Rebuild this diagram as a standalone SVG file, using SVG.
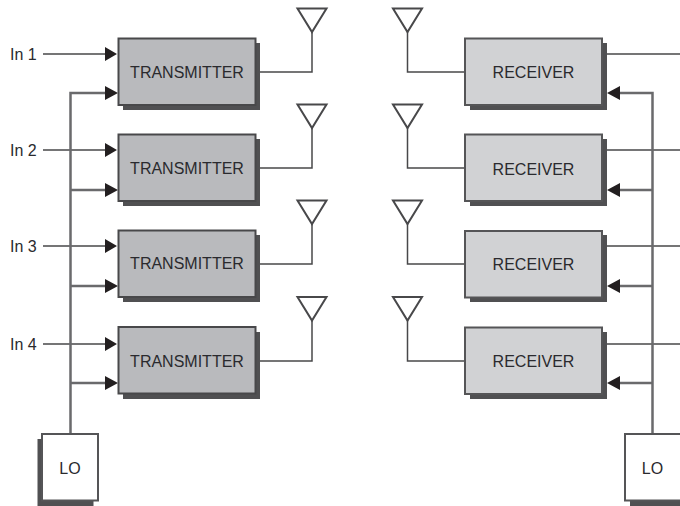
<svg xmlns="http://www.w3.org/2000/svg" width="680" height="506" viewBox="0 0 680 506">
<style>
text{font-family:"Liberation Sans",Arial,sans-serif;font-size:16px;fill:#2a2a2e;text-anchor:middle}
.in{text-anchor:start}
.sh{fill:#505052}
.tx{fill:#b9babd;stroke:#48484a;stroke-width:2}
.rx{fill:#d1d2d4;stroke:#555557;stroke-width:2}
.lo{fill:#fff;stroke:#555557;stroke-width:2}
.ant{fill:#fff;stroke:#48484a;stroke-width:2;stroke-linejoin:miter}
.c{fill:none;stroke:#48484a;stroke-width:1.5}
.b{fill:none;stroke:#6a6a6c;stroke-width:2.5}
.a{fill:#231f20}
</style>
<rect width="680" height="506" fill="#fff"/>
<g id="connectors">
<path class="c" d="M43 54H106M43 150H106M43 246H106M43 344H106"/>
<path class="b" d="M70.500 434V93H106M70.500 190H106M70.500 286H106M70.500 383H106"/>
<path class="c" d="M255 72H312V32M255 168H312V128M255 264H312V224M255 361H312V320"/>
<path class="c" d="M465 72H407.500V32M465 168H407.500V128M465 264H407.500V224M465 361H407.500V320"/>
<path class="c" d="M602 54H680M602 150H680M602 246H680M602 344H680"/>
<path class="b" d="M652.500 434V93H619M652.500 190H619M652.500 286H619M652.500 383H619"/>
<path class="a" d="M105 47L117 54L105 61ZM105 86L118 93L105 100ZM105 143L117 150L105 157ZM105 183L118 190L105 197ZM105 239L117 246L105 253ZM105 279L118 286L105 293ZM105 337L117 344L105 351ZM105 376L118 383L105 390Z"/>
<path class="a" d="M620 86L607 93L620 100ZM620 183L607 190L620 197ZM620 279L607 286L620 293ZM620 376L607 383L620 390Z"/>
</g>
<g id="in1"><text class="in" x="10" y="60">In 1</text></g>
<g id="in2"><text class="in" x="10" y="156">In 2</text></g>
<g id="in3"><text class="in" x="10" y="252">In 3</text></g>
<g id="in4"><text class="in" x="10" y="350">In 4</text></g>
<g id="tx1"><rect class="sh" x="123" y="43" width="137" height="67"/><rect class="tx" x="118.500" y="38.500" width="137" height="66.500"/><text x="187" y="78">TRANSMITTER</text></g>
<g id="tx2"><rect class="sh" x="123" y="139" width="137" height="67"/><rect class="tx" x="118.500" y="134.500" width="137" height="66.500"/><text x="187" y="173.500">TRANSMITTER</text></g>
<g id="tx3"><rect class="sh" x="123" y="235" width="137" height="67"/><rect class="tx" x="118.500" y="230.500" width="137" height="66.500"/><text x="187" y="269">TRANSMITTER</text></g>
<g id="tx4"><rect class="sh" x="123" y="332" width="137" height="67"/><rect class="tx" x="118.500" y="327" width="137" height="66.500"/><text x="187" y="367">TRANSMITTER</text></g>
<g id="rx1"><rect class="sh" x="470" y="43" width="137" height="67"/><rect class="rx" x="465" y="38.500" width="137" height="66.500"/><text x="533.500" y="78">RECEIVER</text></g>
<g id="rx2"><rect class="sh" x="470" y="139" width="137" height="67"/><rect class="rx" x="465" y="134.500" width="137" height="66.500"/><text x="533.500" y="174.500">RECEIVER</text></g>
<g id="rx3"><rect class="sh" x="470" y="235" width="137" height="67"/><rect class="rx" x="465" y="231" width="137" height="66.500"/><text x="533.500" y="270">RECEIVER</text></g>
<g id="rx4"><rect class="sh" x="470" y="332" width="137" height="67"/><rect class="rx" x="465" y="327.500" width="137" height="66.500"/><text x="533.500" y="367">RECEIVER</text></g>
<g id="ant-t1"><path class="ant" d="M297.500 8.500H326.500L312 32Z"/></g>
<g id="ant-t2"><path class="ant" d="M297.500 104.500H326.500L312 128Z"/></g>
<g id="ant-t3"><path class="ant" d="M297.500 200.500H326.500L312 224Z"/></g>
<g id="ant-t4"><path class="ant" d="M297.500 297H326.500L312 320.500Z"/></g>
<g id="ant-r1"><path class="ant" d="M393 8.500H422L407.500 32Z"/></g>
<g id="ant-r2"><path class="ant" d="M393 104.500H422L407.500 128Z"/></g>
<g id="ant-r3"><path class="ant" d="M393 200.500H422L407.500 224Z"/></g>
<g id="ant-r4"><path class="ant" d="M393 297H422L407.500 320.500Z"/></g>
<g id="lo-left"><rect class="sh" x="37.500" y="439" width="56" height="67"/><rect class="lo" x="42" y="434" width="56" height="66.500"/><text x="70" y="474">LO</text></g>
<g id="lo-right"><rect class="sh" x="630" y="439" width="56" height="67"/><rect class="lo" x="625" y="434" width="56" height="66.500"/><text x="652.500" y="474">LO</text></g>
</svg>
